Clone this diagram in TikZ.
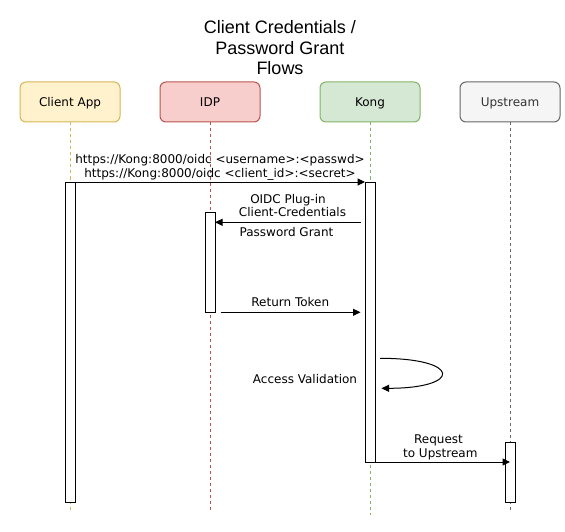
\documentclass[tikz,border=0pt]{standalone}
\usepackage{fontspec}
\setmainfont{DejaVu Sans}
\newfontfamily\titlefont{Liberation Sans}
\usetikzlibrary{arrows.meta,calc}
\definecolor{caFill}{HTML}{FFF2CC}\definecolor{caLine}{HTML}{D6B656}
\definecolor{idFill}{HTML}{F8CECC}\definecolor{idLine}{HTML}{B85450}
\definecolor{kgFill}{HTML}{D5E8D4}\definecolor{kgLine}{HTML}{82B366}
\definecolor{upFill}{HTML}{F5F5F5}\definecolor{upLine}{HTML}{666666}
\definecolor{upText}{HTML}{333333}
\begin{document}
\begin{tikzpicture}[x=1pt,y=-1pt,
  hdr/.style={draw, rounded corners=6pt, minimum width=100pt, minimum height=40pt,
    inner sep=0pt, line width=1pt, font=\fontsize{12}{14}\selectfont,
    text height=8.8pt, text depth=0pt},
  lifeline/.style={line width=1pt, dash pattern=on 3pt off 3pt},
  actbox/.style={draw=black, fill=white, line width=1pt, minimum width=10pt,
    inner sep=0pt, outer sep=0pt},
  msg/.style={draw=black, line width=1pt, -{Triangle[length=7.5pt,width=7pt]}},
  lbl/.style={inner sep=0pt, anchor=base, font=\fontsize{12}{14}\selectfont},
  ttl/.style={inner sep=0pt, anchor=base, font=\titlefont\fontsize{18}{21}\selectfont}]
\useasboundingbox (0,0) rectangle (565,532);

% title
\node[ttl] (t1) at (280,33.1) {Client Credentials /};
\node[ttl] (t2) at (280,54.1) {Password Grant};
\node[ttl] (t3) at (280,74.7) {Flows};

% headers
\node[hdr, fill=caFill, draw=caLine] (ca) at (70,102) {Client App};
\node[hdr, fill=idFill, draw=idLine] (id) at (210,102) {IDP};
\node[hdr, fill=kgFill, draw=kgLine] (kg) at (370,102) {Kong};
\node[hdr, fill=upFill, draw=upLine, text=upText] (up) at (510,102) {Upstream};

% lifeline ends
\coordinate (caEnd) at (70,510);
\coordinate (idEnd) at (210,510);
\coordinate (kgEnd) at (370,515);
\coordinate (upEnd) at (510,510);
\draw[lifeline, caLine] (ca.south) -- (caEnd);
\draw[lifeline, idLine] (id.south) -- (idEnd);
\draw[lifeline, kgLine] (kg.south) -- (kgEnd);
\draw[lifeline, upLine] (up.south) -- (upEnd);

% activation boxes
\node[actbox, minimum height=320pt] (caAct) at (70,342) {};
\node[actbox, minimum height=280pt] (kgAct) at (370,322) {};
\node[actbox, minimum height=100pt] (idAct) at (210,262) {};
\node[actbox, minimum height=60pt] (upAct) at (510,472) {};

% message 1
\draw[msg] (caAct.north east) -- (kgAct.north west);
\node[lbl] (m1a) at (220,163.3) {https://Kong:8000/oidc <username>:<passwd>};
\node[lbl] (m1b) at (220,177) {https://Kong:8000/oidc <client\_id>:<secret>};

% message 2
\coordinate (m2s) at (360.5,222.3);
\draw[msg] (m2s) -- (idAct.east |- m2s);
\node[lbl] (m2a) at (288,203.3) {OIDC Plug-in};
\node[lbl] (m2b) at (292.5,216.6) {Client-Credentials};
\node[lbl] (m2c) at (286.5,236.6) {Password Grant};

% message 3
\coordinate (m3s) at (220.5,312.3);
\coordinate (m3e) at (360.5,312.3);
\draw[msg] (m3s) -- (m3e);
\node[lbl] (m3a) at (290.3,306) {Return Token};

% message 4 (self)
\coordinate (m4s) at (380,358.3);
\coordinate (m4e) at (381.5,388.3);
\draw[msg] (m4s) .. controls (462,358.3) and (462,388.3) .. (m4e);
\node[lbl] (m4a) at (305,383.3) {Access Validation};

% message 5
\draw[msg] (kgAct.south west) -- (kgAct.south west -| upAct.center);
\node[lbl] (m5a) at (438.5,443.3) {Request};
\node[lbl] (m5b) at (440.3,457) {to Upstream};
\end{tikzpicture}
\end{document}
